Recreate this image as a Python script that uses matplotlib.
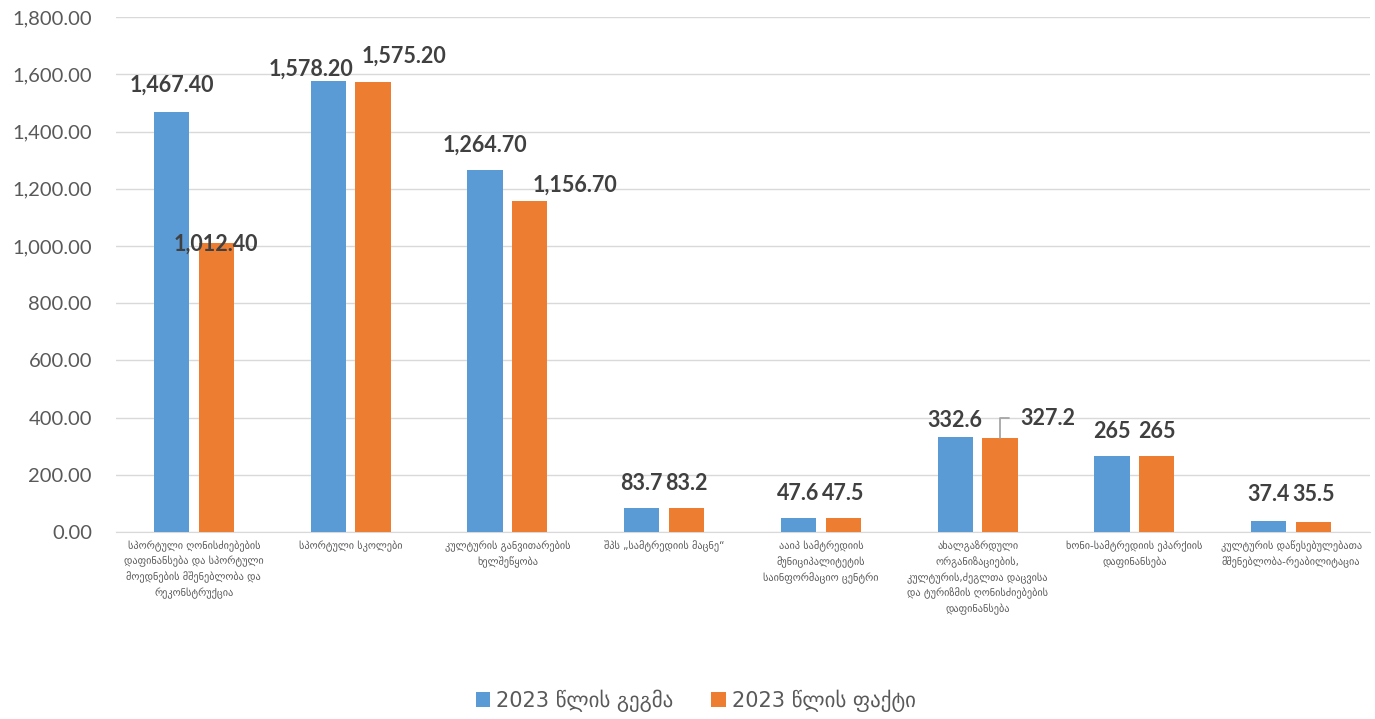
import numpy as np
import matplotlib.pyplot as plt

categories = [
    'სპორტული ღონისძიებების\nდაფინანსება და სპორტული\nმოედნების მშენებლობა და\nრეკონსტრუქცია',
    'სპორტული სკოლები',
    'კულტურის განვითარების\nხელშეწყობა',
    'შპს „სამტრედიის მაცნე“',
    'ააიპ სამტრედიის\nმუნიციპალიტეტის\nსაინფორმაციო ცენტრი',
    'ახალგაზრდული\nორგანიზაციების,\nკულტურის,ძეგლთა დაცვისა\nდა ტურიზმის ღონისძიებების\nდაფინანსება',
    'ხონი-სამტრედიის ეპარქიის\nდაფინანსება',
    'კულტურის დაწესებულებათა\nმშენებლობა-რეაბილიტაცია',
]
plan = [1467.4, 1578.2, 1264.7, 83.7, 47.6, 332.6, 265, 37.4]
fact = [1012.4, 1575.2, 1156.7, 83.2, 47.5, 327.2, 265, 35.5]
plan_labels = ['1,467.40', '1,578.20', '1,264.70', '83.7', '47.6', '332.6', '265', '37.4']
fact_labels = ['1,012.40', '1,575.20', '1,156.70', '83.2', '47.5', '327.2', '265', '35.5']
series_names = ['2023 წლის გეგმა', '2023 წლის ფაქტი']

# label offsets in pixels (dx, dy) from bar top centre
plan_off = [(0, 27), (-17, 11), (0, 25), (0, 25), (0, 25), (0, 16), (0, 25), (0, 27)]
fact_off = [(0, -2), (31, 25), (45, 16), (0, 25), (0, 25), None, (0, 25), (0, 27)]

blue = '#5B9BD5'
orange = '#ED7D31'

fig = plt.figure(figsize=(13.75, 7.19), dpi=100)
ax = fig.add_axes([0.0840, 0.260, 0.9120, 0.716])

x = np.arange(len(categories))
w = 0.225
b1 = ax.bar(x - 0.143, plan, w, color=blue, zorder=3)
b2 = ax.bar(x + 0.143, fact, w, color=orange, zorder=3)

ax.set_xlim(-0.5, len(categories) - 0.5)
ax.set_ylim(0, 1800)
ax.set_yticks(np.arange(0, 1801, 200))
ax.set_yticklabels([f'{v:,.2f}' for v in np.arange(0, 1801, 200)],
                   fontsize=14.5, color='#595959', family=['Lato', 'DejaVu Sans'])
ax.yaxis.grid(True, color='#D9D9D9', linewidth=1, zorder=0)
ax.tick_params(axis='y', length=0, pad=17)
ax.tick_params(axis='x', length=0, pad=6)
ax.set_xticks(x)
ax.set_xticklabels(categories, fontsize=7.4, color='#595959',
                   family=['DejaVu Sans'], linespacing=1.5, va='top')
for s in ['top', 'right', 'left']:
    ax.spines[s].set_visible(False)
ax.spines['bottom'].set_color('#D9D9D9')

for i in range(len(categories)):
    for bars, labs, offs in [(b1, plan_labels, plan_off), (b2, fact_labels, fact_off)]:
        r = bars[i]
        xc = r.get_x() + r.get_width() / 2
        if offs[i] is None:
            # label with leader line
            ax.annotate(labs[i], (xc, r.get_height()), xytext=(20, 20),
                        textcoords='offset pixels', ha='left', va='center',
                        fontsize=15.5, fontweight='bold', color='#404040',
                        family=['Lato', 'DejaVu Sans'], zorder=5,
                        arrowprops=dict(arrowstyle='-', color='#A6A6A6', lw=1.3,
                                        shrinkA=6, shrinkB=0,
                                        connectionstyle='angle,angleA=0,angleB=90,rad=0'))
            continue
        ax.annotate(labs[i], (xc, r.get_height()), xytext=offs[i],
                    textcoords='offset pixels', ha='center', va='center',
                    fontsize=15.5, fontweight='bold', color='#404040',
                    family=['Lato', 'DejaVu Sans'], zorder=5)

leg = fig.legend([b1, b2], series_names, loc='lower center', ncol=2,
                 bbox_to_anchor=(0.506, -0.016), frameon=False,
                 handlelength=0.7, handleheight=0.7, handletextpad=0.3,
                 columnspacing=1.8, prop={'family': ['DejaVu Sans'], 'size': 15})
for t in leg.get_texts():
    t.set_color('#595959')

fig.savefig('out.png', dpi=100)
